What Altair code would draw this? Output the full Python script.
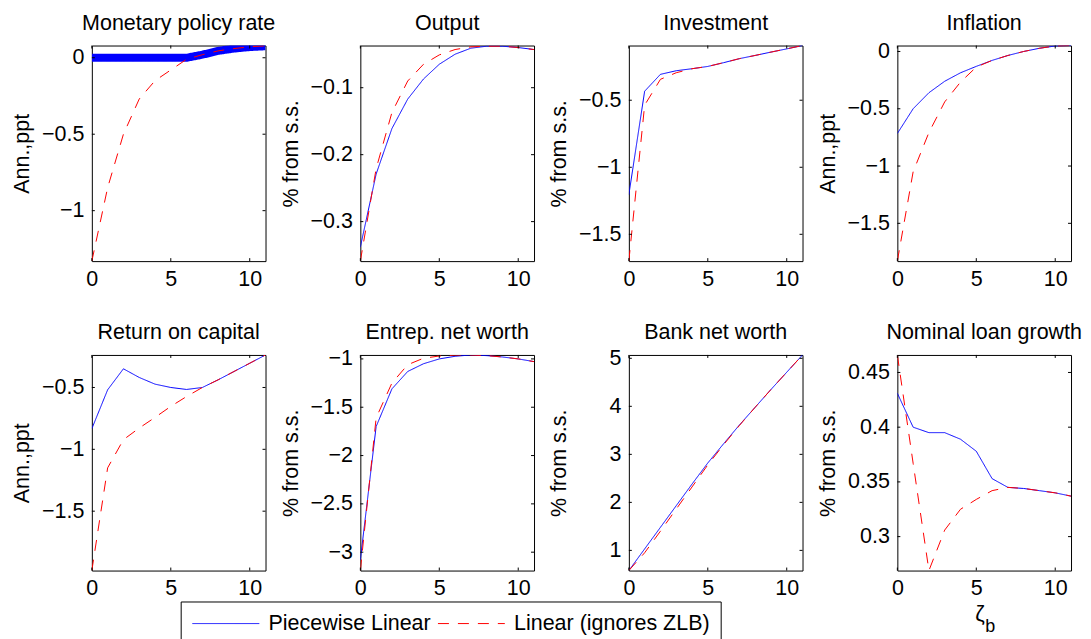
import altair as alt
import pandas as pd

FONT = "Liberation Sans"
FS = 21.5
W, H = 174, 216

periods = list(range(12))
series = ["Piecewise Linear", "Linear (ignores ZLB)"]
x_ticks = [0, 5, 10]
x_domain = [0, 11]

titles = ["Monetary policy rate", "Output", "Investment", "Inflation",
          "Return on capital", "Entrep. net worth", "Bank net worth", "Nominal loan growth"]
y_titles = ["Ann.,ppt", "% from s.s.", "% from s.s.", "Ann.,ppt",
            "Ann.,ppt", "% from s.s.", "% from s.s.", "% from s.s."]

policy_pw = [0, 0, 0, 0, 0, 0, 0, 0.02, 0.045, 0.06, 0.07, 0.075]
policy_lin = [-1.33, -0.85, -0.50, -0.27, -0.15, -0.08, -0.01, 0.02, 0.045, 0.06, 0.072, 0.078]
output_pw = [-0.338, -0.229, -0.161, -0.117, -0.087, -0.065, -0.050, -0.041, -0.038, -0.038, -0.040, -0.043]
output_lin = [-0.359, -0.221, -0.137, -0.090, -0.065, -0.051, -0.043, -0.039, -0.038, -0.038, -0.040, -0.043]
invest_pw = [-1.205, -0.433, -0.307, -0.280, -0.265, -0.248, -0.220, -0.190, -0.166, -0.141, -0.117, -0.092]
invest_lin = [-1.70, -0.537, -0.344, -0.295, -0.265, -0.248, -0.220, -0.190, -0.166, -0.141, -0.117, -0.092]
infl_pw = [-0.716, -0.50, -0.36, -0.26, -0.186, -0.13, -0.078, -0.035, 0.0, 0.028, 0.048, 0.052]
infl_lin = [-1.83, -1.05, -0.707, -0.44, -0.267, -0.136, -0.078, -0.035, 0.0, 0.028, 0.048, 0.052]
rk_pw = [-0.833, -0.519, -0.349, -0.419, -0.473, -0.50, -0.516, -0.50, -0.438, -0.371, -0.304, -0.237]
rk_lin = [-1.98, -1.15, -0.922, -0.828, -0.742, -0.653, -0.573, -0.50, -0.438, -0.371, -0.304, -0.237]
nwe_pw = [-3.08, -1.70, -1.31, -1.13, -1.05, -1.00, -0.973, -0.959, -0.966, -0.98, -1.00, -1.028]
nwe_lin = [-3.19, -1.61, -1.25, -1.06, -0.993, -0.97, -0.96, -0.959, -0.966, -0.98, -1.00, -1.028]
nwb_pw = [0.58, 1.03, 1.48, 1.93, 2.38, 2.82, 3.22, 3.61, 3.98, 4.35, 4.71, 5.07]
nwb_lin = [0.58, 0.95, 1.40, 1.86, 2.32, 2.78, 3.20, 3.60, 3.98, 4.35, 4.71, 5.07]
loan_pw = [0.431, 0.400, 0.395, 0.395, 0.389, 0.378, 0.353, 0.345, 0.344, 0.342, 0.340, 0.337]
loan_lin = [0.466, 0.367, 0.269, 0.306, 0.325, 0.334, 0.342, 0.345, 0.344, 0.342, 0.340, 0.337]

pw_series = [policy_pw, output_pw, invest_pw, infl_pw, rk_pw, nwe_pw, nwb_pw, loan_pw]
lin_series = [policy_lin, output_lin, invest_lin, infl_lin, rk_lin, nwe_lin, nwb_lin, loan_lin]

y_domains = [[-1.33, 0.08], [-0.359, -0.037], [-1.70, -0.092], [-1.83, 0.052],
             [-1.98, -0.237], [-3.19, -0.959], [0.58, 5.07], [0.269, 0.466]]
y_ticks = [[-1, -0.5, 0], [-0.3, -0.2, -0.1], [-1.5, -1, -0.5], [-1.5, -1, -0.5, 0],
           [-1.5, -1, -0.5], [-3, -2.5, -2, -1.5, -1], [1, 2, 3, 4, 5], [0.3, 0.35, 0.4, 0.45]]

x_label_main = "ζ"
x_label_sub = "b"

color_scale = alt.Scale(domain=series, range=["#0000ff", "#ff0000"])
dash_scale = alt.Scale(domain=series, range=[[1, 0], [11, 9]])
legend = alt.Legend(title=None, orient="none", legendX=89, legendY=557, direction="horizontal",
                    strokeColor="black", fillColor="white", padding=11, labelFont=FONT,
                    labelFontSize=FS, labelColor="black", labelLimit=400,
                    symbolType="M-6.7,0H6.7", symbolSize=100, symbolStrokeWidth=1,
                    symbolOffset=23.5, labelOffset=32, columnPadding=4)


def panel(i):
    xs = alt.Scale(domain=x_domain, nice=False, zero=False)
    ys = alt.Scale(domain=y_domains[i], nice=False, zero=False)
    df = pd.DataFrame({
        "t": periods * 2,
        "v": pw_series[i] + lin_series[i],
        "s": [series[0]] * len(periods) + [series[1]] * len(periods),
    })
    xax = alt.Axis(values=x_ticks, format="d", tickSize=0, domain=False, grid=False,
                   labelFont=FONT, labelFontSize=FS, labelColor="black", labelPadding=7,
                   labelFlush=False, title=None)
    yax = alt.Axis(values=y_ticks[i], format="~g", tickSize=0, domain=False, grid=False,
                   labelFont=FONT, labelFontSize=FS, labelColor="black", labelPadding=8,
                   title=y_titles[i], titleFont=FONT, titleFontSize=FS, titleFontWeight="normal",
                   titleColor="black", titlePadding=6, minExtent=52, maxExtent=52)
    enc = dict(
        x=alt.X("t:Q", scale=xs, axis=xax),
        y=alt.Y("v:Q", scale=ys, axis=yax),
        color=alt.Color("s:N", scale=color_scale, legend=legend),
        strokeDash=alt.StrokeDash("s:N", scale=dash_scale, legend=legend),
    )
    base = alt.Chart(df)
    blue = base.transform_filter(alt.datum.s == series[0]).mark_line(
        clip=True, strokeWidth=8 if i == 0 else 1).encode(**enc)
    red = base.transform_filter(alt.datum.s == series[1]).mark_line(
        clip=True, strokeWidth=1).encode(**enc)

    xt = pd.DataFrame({"t": x_ticks})
    yt = pd.DataFrame({"v": y_ticks[i]})
    tx = alt.X("t:Q", scale=xs, axis=xax)
    ty = alt.Y("v:Q", scale=ys, axis=yax)
    tk_b = alt.Chart(xt).mark_rule(color="black").encode(x=tx, y=alt.value(H), y2=alt.value(H - 3))
    tk_t = alt.Chart(xt).mark_rule(color="black").encode(x=tx, y=alt.value(0), y2=alt.value(3))
    tk_l = alt.Chart(yt).mark_rule(color="black").encode(y=ty, x=alt.value(0), x2=alt.value(3))
    tk_r = alt.Chart(yt).mark_rule(color="black").encode(y=ty, x=alt.value(W), x2=alt.value(W - 3))

    ttl = alt.Chart(pd.DataFrame({"title": [titles[i]]})).mark_text(
        align="center", baseline="alphabetic", font=FONT, fontSize=FS, color="black").encode(
        x=alt.value(W / 2), y=alt.value(-16), text="title:N")

    layers = [blue, red, tk_b, tk_t, tk_l, tk_r, ttl]
    if i == 7:
        lab = pd.DataFrame({"a": [x_label_main], "b": [x_label_sub]})
        z = alt.Chart(lab).mark_text(align="left", baseline="alphabetic", font=FONT,
                                     fontSize=FS, color="black").encode(
            x=alt.value(78), y=alt.value(267), text="a:N")
        b = alt.Chart(lab).mark_text(align="left", baseline="alphabetic", font=FONT,
                                     fontSize=18, color="black").encode(
            x=alt.value(88), y=alt.value(278), text="b:N")
        layers += [z, b]
    return alt.layer(*layers).properties(width=W, height=H)


chart = alt.concat(*[panel(i) for i in range(8)], columns=4,
                   spacing={"row": 94, "column": 95}, bounds="flush").resolve_scale(
    color="shared", strokeDash="shared").configure_view(
    stroke="black", strokeWidth=1).properties(
    padding={"left": 3, "top": 3, "right": 0, "bottom": 0}, background="white")

chart.save("out.html", embed_options={"renderer": "svg", "actions": False})
